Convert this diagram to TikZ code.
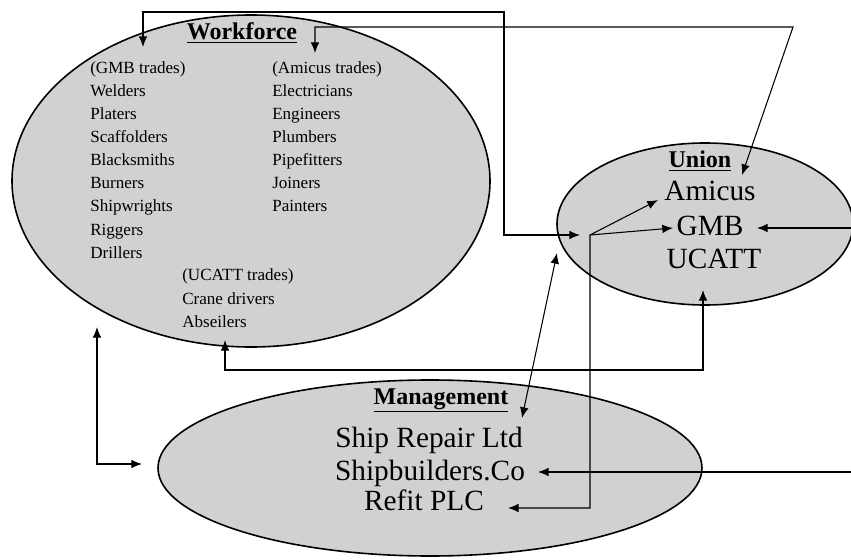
\documentclass[tikz,border=0pt]{standalone}
\usepackage{fontspec}
\setmainfont{Liberation Serif}
\usetikzlibrary{arrows.meta}

\tikzset{
  pane/.style={fill=black!18, draw=black, line width=1.2pt},
  trade/.style={anchor=base west, inner sep=0pt, font=\fontsize{12.8}{15}\selectfont},
  firm/.style={anchor=base, inner sep=0pt, font=\fontsize{22}{26}\selectfont},
  head/.style={anchor=base, inner sep=0pt, font=\fontsize{18}{22}\selectfont\bfseries},
  link/.style={line width=0.8pt, {Latex[length=8pt,width=6.5pt]}-{Latex[length=8pt,width=6.5pt]}},
  tolink/.style={line width=0.8pt, -{Latex[length=8pt,width=6.5pt]}}
}

\begin{document}
\begin{tikzpicture}[x=0.75pt, y=-0.75pt]
  \useasboundingbox (0,0) rectangle (851,560);

  % the three groups
  \filldraw[pane] (251,181) ellipse [x radius=239, y radius=166];
  \filldraw[pane] (705,224) ellipse [x radius=148, y radius=81];
  \filldraw[pane] (430,468) ellipse [x radius=272, y radius=88];

  % workforce
  \node[head] (wfhead) at (242,40) {\underline{Workforce}};
  \foreach \t [count=\i from 0] in {(GMB trades),Welders,Platers,Scaffolders,Blacksmiths,Burners,Shipwrights,Riggers,Drillers}
    \node[trade] (gmbtr\i) at (90,74+23*\i) {\t};
  \foreach \t [count=\i from 0] in {(Amicus trades),Electricians,Engineers,Plumbers,Pipefitters,Joiners,Painters}
    \node[trade] (amtr\i) at (272,74+23*\i) {\t};
  \foreach \t [count=\i from 0] in {(UCATT trades),Crane drivers,Abseilers}
    \node[trade] (uctr\i) at (182,281+23*\i) {\t};

  % union
  \node[head] (unhead) at (700,168) {\underline{Union}};
  \node[firm] (unAmicus) at (710,200) {Amicus};
  \node[firm] (unGMB) at (710,235) {GMB};
  \node[firm] (unUCATT) at (714,268) {UCATT};

  % management
  \node[head] (mghead) at (441,404) {\underline{Management}};
  \node[firm] (shiprepair) at (429,447) {Ship Repair Ltd};
  \node[firm] (shipbuilders) at (430,480) {Shipbuilders.Co};
  \node[firm] (refit) at (424,510) {Refit PLC};

  % arrow ends
  \coordinate (gmbtop) at (143,47);
  \coordinate (amtop) at (315,53);
  \coordinate (ucbot) at (225,340);
  \coordinate (wfleft) at (97,327);
  \coordinate (mgleft) at (142,464);
  \coordinate (unleft) at (580,235);
  \coordinate (unbot) at (703,290);
  \coordinate (unsw) at (557,253);
  \coordinate (fork) at (590,235);
  \coordinate (amin) at (658,200);
  \coordinate (gmbin) at (673,228);
  \coordinate (gmbright) at (757,228);
  \coordinate (amright) at (742,175);
  \coordinate (srtop) at (522,418);
  \coordinate (sbright) at (538,472);
  \coordinate (rfright) at (508,508);
  \coordinate (edgeA) at (851,228);
  \coordinate (edgeB) at (851,472);

  % connectors
  \draw[link] (gmbtop) |- (504,12) |- (unleft);
  \draw[link] (amtop) |- (793,27) -- (amright);
  \draw[link] (amin) -- (fork) |- (rfright);
  \draw[tolink] (fork) -- (gmbin);
  \draw[tolink] (edgeA) -- (gmbright);
  \draw[tolink] (edgeB) -- (sbright);
  \draw[link] (unsw) -- (srtop);
  \draw[link] (ucbot) |- (unbot |- 0,370) -- (unbot);
  \draw[link] (wfleft) |- (mgleft);
\end{tikzpicture}
\end{document}
